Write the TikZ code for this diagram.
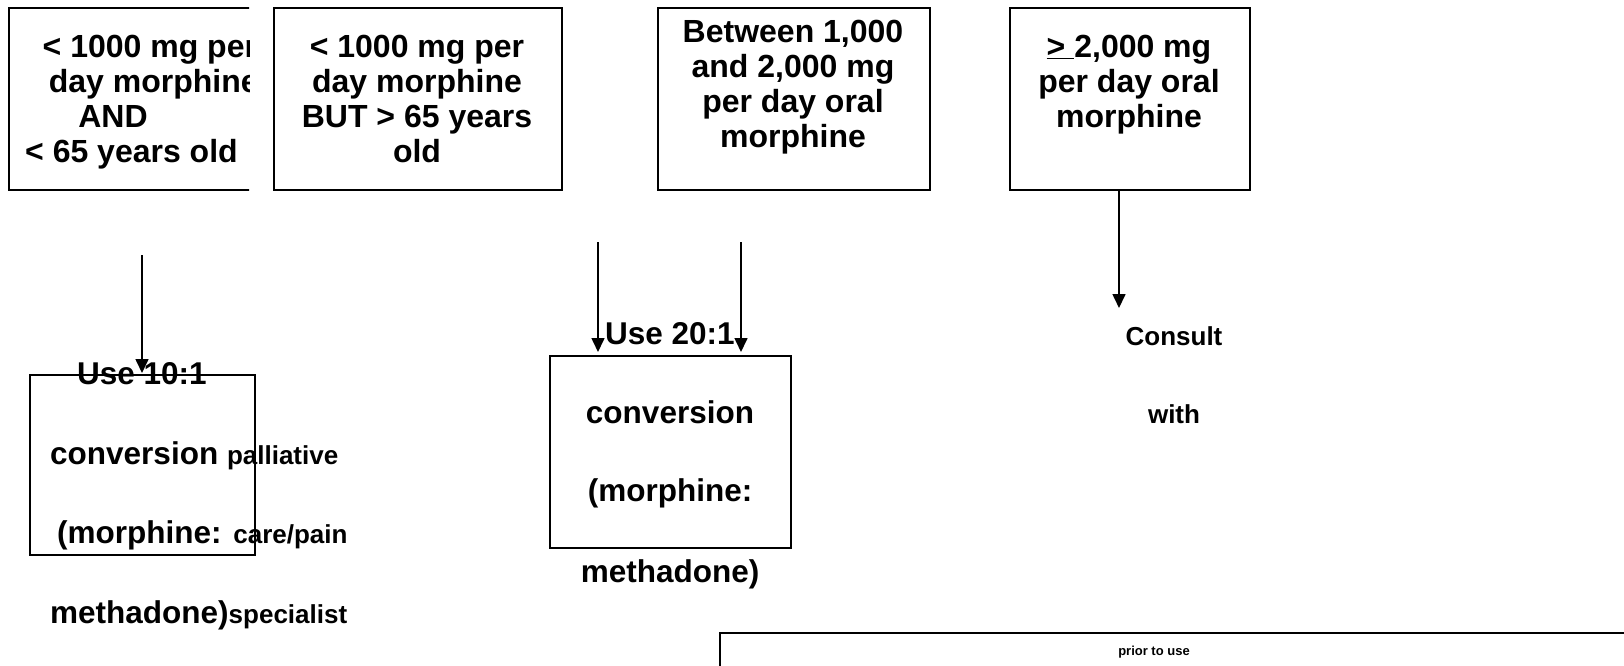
\documentclass[tikz,border=0pt]{standalone}
\usepackage{fontspec}
\setmainfont{Liberation Sans}
\usetikzlibrary{arrows.meta}
\newcommand\fontL{\fontsize{31.5}{34}\selectfont\bfseries}
\newcommand\fontS{\fontsize{26}{28}\selectfont\bfseries}
\newcommand\fontT{\fontsize{32}{35}\selectfont\bfseries}
\begin{document}
\begin{tikzpicture}[x=1pt,y=-1pt,
  box/.style={draw, line width=1.6pt, anchor=north west, inner sep=0pt},
  top/.style={font=\fontT, align=center, inner sep=0pt, anchor=north},
  topw/.style={font=\fontT, inner sep=0pt, anchor=base west},
  lower/.style={font=\fontL, inner sep=0pt, anchor=base},
  lowerw/.style={font=\fontL, inner sep=0pt, anchor=base west},
  small/.style={font=\fontS, inner sep=0pt, anchor=base},
  arr/.style={line width=1.6pt, -{Triangle[length=14pt,width=13pt]}}]
\useasboundingbox (0,0) rectangle (1624,665);
\clip (0,0) rectangle (1624,665);
% top row
\begin{scope}
\clip (0,0) rectangle (249,665);
\node[box, minimum width=264pt, minimum height=182pt] (b1) at (8,7) {};
\node[topw] (t1a) at (42.5,57.5) {< 1000 mg per};
\node[topw] (t1b) at (48.7,92.5) {day morphine};
\node[font=\fontT, inner sep=0pt, anchor=base] (t1c) at (113,127.5) {AND};
\node[topw] (t1d) at (25,162.5) {< 65 years old};
\end{scope}
\node[box, minimum width=288pt, minimum height=182pt] (b2) at (273,7) {};
\node[top] (t2) at (417,34.6) {< 1000 mg per\\day morphine\\BUT > 65 years\\old};
\node[box, minimum width=272pt, minimum height=182pt] (b3) at (657,7) {};
\node[top] (t3) at (793,20) {Between 1,000\\and 2,000 mg\\ per day oral\\morphine};
\node[box, minimum width=240pt, minimum height=182pt] (b4) at (1009,7) {};
\node[top] (t4) at (1129,34.6) {\underline{>\ }2,000 mg\\per day oral\\morphine};
% lower boxes
\node[box, minimum width=225pt, minimum height=180pt] (b5) at (29,374) {};
\node[box, minimum width=241pt, minimum height=192pt] (b6) at (549,355) {};
\node[box, minimum width=1000pt, minimum height=100pt] (b7) at (719,632) {};
% arrows
\coordinate (a1s) at (142,255);
\coordinate (a1e) at (142,373);
\draw[arr] (a1s) -- (a1e);
\coordinate (a2s) at (598,242);
\coordinate (a2e) at (598,352);
\draw[arr] (a2s) -- (a2e);
\coordinate (a3s) at (741,242);
\coordinate (a3e) at (741,352);
\draw[arr] (a3s) -- (a3e);
\coordinate (a4s) at (b4.south -| 1119,0);
\coordinate (a4e) at (1119,308);
\draw[arr] (a4s) -- (a4e);
% lower-left texts
\node[lowerw] (l1) at (77,384) {Use 10:1};
\node[lowerw] (l2) at (50,464) {conversion \fontS palliative};
\node[lowerw] (l3) at (57,543) {(morphine: \fontS care/pain};
\node[lowerw] (l4) at (50,623) {methadone)\fontS specialist};
% middle texts
\node[lower] (m1) at (670,344) {Use 20:1};
\node[lower] (m2) at (670,423) {conversion};
\node[lower] (m3) at (670,501) {(morphine:};
\node[lower] (m4) at (670,582) {methadone)};
% right texts
\node[small] (r1) at (1174,345) {Consult};
\node[small] (r2) at (1174,423) {with};
\node[font=\fontsize{13}{15}\selectfont\bfseries, inner sep=0pt, anchor=base] (p1) at (1154,655) {prior to use};
\end{tikzpicture}
\end{document}
